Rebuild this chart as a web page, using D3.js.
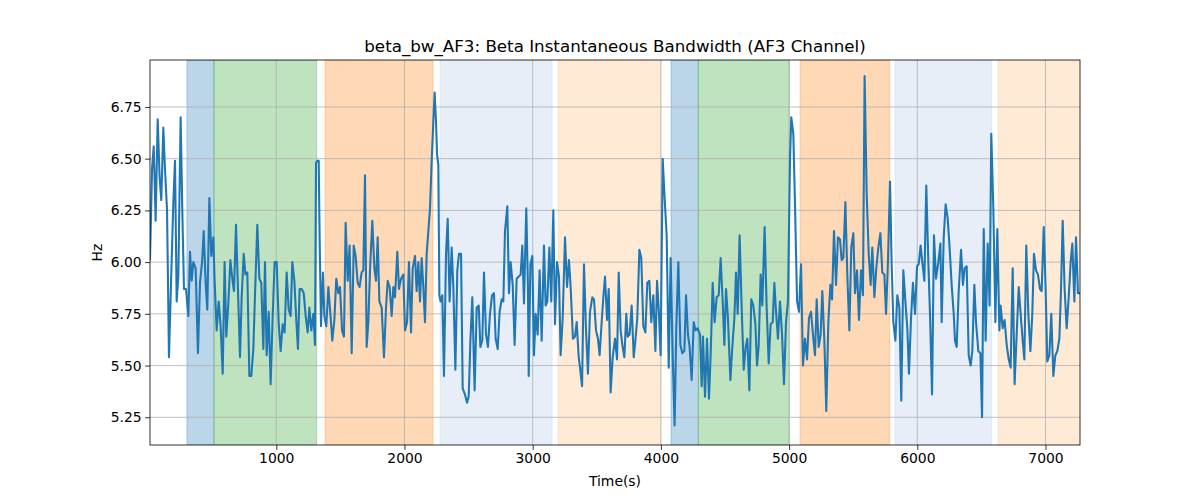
<!DOCTYPE html>
<html>
<head>
<meta charset="utf-8">
<script src="https://cdn.jsdelivr.net/npm/d3@7"></script>
<style>
  html, body { margin: 0; padding: 0; background: #fff; }
  svg { display: block; }
  text { font-family: "DejaVu Sans", sans-serif; fill: #000; }
</style>
</head>
<body>
<svg id="chart" width="1200" height="500"></svg>
<script>
// ---- data ----
const times = [15,31,44,59,75,90,103,119,132,148,163,179,197,210,223,236,254,267,280,296,314,327,340,353,371,389,405,421,434,449,462,478,493,509,519,535,551,566,582,597,610,626,642,655,670,686,701,717,730,746,759,774,790,805,821,837,852,868,883,899,912,925,941,956,972,987,1003,1019,1034,1050,1065,1081,1097,1112,1125,1141,1156,1169,1182,1198,1214,1229,1245,1258,1273,1289,1302,1310,1320,1331,1338,1349,1364,1375,1390,1406,1422,1437,1453,1468,1484,1497,1513,1528,1541,1557,1572,1588,1604,1619,1635,1650,1666,1679,1692,1705,1718,1731,1749,1765,1778,1791,1804,1822,1840,1856,1869,1884,1900,1913,1926,1944,1957,1973,1991,2004,2020,2035,2051,2064,2082,2095,2108,2121,2134,2147,2160,2173,2186,2199,2212,2225,2235,2246,2254,2264,2272,2282,2295,2308,2324,2337,2352,2368,2381,2397,2412,2425,2441,2454,2472,2488,2501,2514,2529,2547,2563,2579,2592,2607,2620,2636,2651,2667,2683,2698,2711,2727,2742,2758,2771,2784,2802,2815,2828,2844,2859,2875,2891,2906,2919,2932,2950,2963,2969,2982,2997,3010,3023,3039,3054,3070,3088,3101,3114,3130,3145,3161,3174,3190,3205,3218,3234,3252,3268,3283,3296,3314,3330,3343,3359,3369,3385,3400,3416,3431,3447,3465,3478,3494,3509,3522,3538,3551,3564,3580,3593,3608,3624,3642,3658,3671,3686,3699,3715,3730,3741,3756,3772,3788,3801,3816,3832,3847,3863,3879,3894,3910,3925,3941,3957,3970,3985,3998,4014,4029,4045,4061,4076,4092,4107,4120,4136,4152,4167,4183,4196,4211,4224,4240,4256,4271,4287,4305,4318,4328,4344,4360,4375,4388,4404,4419,4435,4451,4466,4482,4495,4508,4523,4542,4557,4573,4586,4599,4614,4630,4646,4661,4674,4690,4705,4721,4737,4750,4763,4778,4791,4809,4825,4841,4856,4872,4885,4898,4913,4929,4945,4960,4976,4991,5007,5017,5033,5046,5062,5077,5093,5108,5124,5140,5155,5171,5186,5202,5215,5231,5246,5259,5275,5290,5306,5322,5335,5350,5366,5381,5397,5410,5423,5439,5454,5470,5485,5501,5514,5530,5545,5561,5576,5589,5605,5621,5636,5649,5665,5680,5696,5712,5727,5743,5756,5771,5787,5800,5813,5829,5844,5860,5875,5891,5907,5922,5935,5951,5966,5982,5998,6011,6026,6039,6055,6070,6086,6099,6115,6130,6146,6164,6180,6190,6206,6221,6237,6252,6268,6284,6294,6307,6323,6341,6356,6369,6385,6401,6416,6429,6445,6458,6476,6492,6505,6518,6533,6549,6564,6577,6593,6609,6624,6640,6650,6666,6681,6697,6713,6728,6744,6759,6775,6791,6806,6822,6835,6850,6866,6882,6897,6910,6926,6941,6957,6970,6986,7001,7014,7030,7045,7061,7077,7092,7108,7121,7134,7149,7165,7181,7196,7209,7225,7238,7253,7269];
const values = [6.01,6.45,6.56,6.20,6.69,6.41,6.30,6.65,6.45,6.25,5.54,5.90,6.29,6.49,5.81,5.93,6.70,6.25,5.87,5.87,5.74,6.05,5.91,6.00,5.97,5.56,5.90,6.00,6.15,5.90,5.77,6.31,6.03,6.12,5.91,5.67,5.81,5.69,5.46,6.00,5.64,5.80,6.01,5.93,5.86,6.18,5.87,5.54,5.83,6.04,5.94,5.95,5.45,5.45,5.58,5.90,6.18,5.92,5.90,5.58,6.00,5.55,5.76,5.41,5.74,6.00,6.00,5.70,5.57,5.70,5.66,5.95,5.77,5.74,6.00,5.91,5.72,5.58,5.87,5.87,5.85,5.74,5.66,5.78,5.67,5.75,5.60,6.48,6.49,6.49,6.12,5.69,5.95,5.74,5.69,5.88,5.75,5.62,5.72,5.92,5.85,5.88,5.67,5.64,6.19,5.91,6.08,5.56,6.08,6.03,5.90,5.88,5.95,5.96,6.42,5.59,5.71,5.96,6.20,5.97,5.91,6.12,5.81,5.78,5.54,5.78,5.91,5.88,5.74,5.88,5.83,6.05,5.87,5.92,5.94,5.67,5.71,6.00,5.66,5.97,6.03,5.86,6.00,5.81,6.02,5.88,5.71,6.04,6.15,6.26,6.49,6.68,6.82,6.68,6.52,6.47,5.84,5.81,5.84,5.45,6.04,6.21,5.81,6.07,5.88,5.48,5.96,6.04,6.04,5.39,5.36,5.32,5.35,5.62,5.83,5.38,5.78,5.79,5.59,5.62,5.95,5.65,5.59,5.75,5.84,5.85,5.63,5.58,5.76,5.82,5.81,6.15,6.27,5.85,6.00,5.89,5.60,5.92,5.93,5.94,6.08,5.80,6.26,5.88,5.45,5.99,6.03,5.55,5.75,5.65,5.96,5.62,6.08,5.79,5.81,6.07,5.81,6.25,5.70,6.00,5.93,5.55,5.73,6.12,5.88,6.01,5.88,5.63,5.64,5.71,5.54,5.49,5.40,5.99,5.67,5.46,5.76,5.83,5.82,5.67,5.63,5.55,5.71,5.83,5.93,5.72,5.87,5.37,5.54,5.63,5.53,5.95,5.67,5.60,5.54,5.75,5.64,5.65,5.79,5.54,5.62,5.73,6.06,6.02,5.69,5.66,5.90,5.91,5.71,5.84,5.57,5.91,5.75,5.55,6.50,6.31,6.13,5.49,6.02,5.55,5.21,5.68,6.00,5.60,5.56,5.57,5.84,5.65,5.59,5.43,5.71,5.67,5.68,5.65,5.40,5.64,5.35,5.63,5.34,5.55,5.90,5.71,5.83,5.84,6.02,5.81,5.60,5.87,5.73,5.43,5.59,5.73,5.95,5.75,6.13,5.78,5.48,5.59,5.63,5.38,5.82,5.79,5.70,5.50,5.60,5.94,5.79,6.17,5.78,5.51,5.70,5.71,5.90,5.76,5.63,5.81,5.65,5.41,5.71,5.81,6.50,6.70,6.62,6.28,5.81,5.76,5.99,5.50,5.63,5.53,5.73,5.76,5.65,5.55,5.82,5.59,5.65,5.86,5.62,5.28,5.71,5.89,5.82,6.15,5.89,6.12,6.11,6.01,6.02,6.29,5.94,5.67,6.07,6.14,5.85,5.96,5.72,5.96,5.84,6.90,6.33,6.04,5.89,6.07,5.83,5.97,6.07,6.14,5.95,5.94,5.75,6.00,6.39,5.99,5.71,5.62,5.84,5.78,5.33,5.96,5.81,5.68,5.46,5.73,5.90,5.75,5.98,5.99,6.08,6.00,5.91,6.37,6.00,5.75,5.36,6.13,5.92,6.00,6.09,5.71,6.12,6.28,6.21,6.07,5.89,5.75,5.62,5.59,5.86,6.06,5.89,5.97,5.98,5.55,5.50,5.57,5.89,5.71,5.57,5.56,5.25,6.16,5.62,6.09,5.79,6.62,6.26,5.71,6.16,5.67,5.79,5.68,5.72,5.60,5.53,5.49,5.97,5.41,5.65,5.88,5.75,5.62,5.53,6.08,5.75,5.57,5.75,6.04,5.96,5.94,5.87,5.86,6.17,5.87,5.52,5.55,5.75,5.45,5.55,5.57,5.63,5.87,6.20,5.87,5.68,5.83,6.00,6.09,5.81,6.12,5.85,5.85];

const spanStarts = [303, 514, 1380, 2277, 3198, 4079, 4292, 5085, 5826, 6630];
const spanEnds   = [514, 1315, 2222, 3151, 4001, 4292, 5002, 5785, 6580, 7400];
const spanColors = ["#1f77b4", "#2ca02c", "#ff7f0e", "#aec7e8", "#ffbb78", "#1f77b4", "#2ca02c", "#ff7f0e", "#aec7e8", "#ffbb78"];

const xTicks = [1000, 2000, 3000, 4000, 5000, 6000, 7000];
const yTicks = [5.25, 5.50, 5.75, 6.00, 6.25, 6.50, 6.75];

const titleText = "beta_bw_AF3: Beta Instantaneous Bandwidth (AF3 Channel)";
const xLabel = "Time(s)";
const yLabel = "Hz";

// ---- layout ----
const margin = { left: 150, right: 120, top: 60, bottom: 55 };
const W = 1200, H = 500;
const pw = W - margin.left - margin.right;   // 930
const ph = H - margin.top - margin.bottom;   // 385

const svg = d3.select("#chart");
const g = svg.append("g").attr("transform", `translate(${margin.left},${margin.top})`);

const x = d3.scaleLinear().domain([times[0], times[times.length - 1]]).range([0, pw]);
const y = d3.scaleLinear().domain([5.116, 6.977]).range([ph, 0]);

g.append("clipPath").attr("id", "clip").append("rect").attr("width", pw).attr("height", ph);

// spans
const spans = spanStarts.map((s, i) => ({ s, e: spanEnds[i], c: spanColors[i] }));
g.append("g").attr("clip-path", "url(#clip)")
  .selectAll("rect").data(spans).join("rect")
  .attr("x", d => x(d.s)).attr("width", d => x(d.e) - x(d.s))
  .attr("y", 0).attr("height", ph)
  .attr("fill", d => d.c).attr("fill-opacity", 0.3)
  .attr("stroke", d => d.c).attr("stroke-opacity", 0.3).attr("stroke-width", 1);

// grid
const grid = g.append("g");
grid.selectAll("line.vx").data(xTicks).join("line")
  .attr("x1", d => x(d)).attr("x2", d => x(d)).attr("y1", 0).attr("y2", ph)
  .attr("stroke", "#b0b0b0").attr("stroke-width", 0.8);
grid.selectAll("line.hy").data(yTicks).join("line")
  .attr("y1", d => y(d)).attr("y2", d => y(d)).attr("x1", 0).attr("x2", pw)
  .attr("stroke", "#b0b0b0").attr("stroke-width", 0.8);

// line
const pts = times.map((t, i) => [t, values[i]]);
g.append("path").datum(pts).attr("clip-path", "url(#clip)")
  .attr("fill", "none").attr("stroke", "#1f77b4").attr("stroke-width", 2.08)
  .attr("stroke-linejoin", "round")
  .attr("d", d3.line().x(d => x(d[0])).y(d => y(d[1])));

// axes
const xAxis = g.append("g").attr("transform", `translate(0,${ph})`)
  .call(d3.axisBottom(x).tickValues(xTicks).tickFormat(d3.format("d")).tickSize(4.9).tickPadding(3.5));
const yAxis = g.append("g")
  .call(d3.axisLeft(y).tickValues(yTicks).tickFormat(d3.format(".2f")).tickSize(4.9).tickPadding(3.5));
[xAxis, yAxis].forEach(a => {
  a.select(".domain").remove();
  a.selectAll(".tick line").attr("stroke", "#000").attr("stroke-width", 0.8);
  a.selectAll(".tick text").style("font-family", "DejaVu Sans").style("font-size", "13.9px").attr("fill", "#000");
});

// frame
g.append("rect").attr("width", pw).attr("height", ph)
  .attr("fill", "none").attr("stroke", "#000").attr("stroke-width", 0.8);

// labels
svg.append("text").attr("x", margin.left + pw / 2).attr("y", 52)
  .attr("text-anchor", "middle").style("font-size", "16.7px").text(titleText);
svg.append("text").attr("x", margin.left + pw / 2).attr("y", 486)
  .attr("text-anchor", "middle").style("font-size", "13.9px").text(xLabel);
svg.append("text").attr("transform", `translate(102,${margin.top + ph / 2}) rotate(-90)`)
  .attr("text-anchor", "middle").style("font-size", "13.9px").text(yLabel);
</script>
</body>
</html>
